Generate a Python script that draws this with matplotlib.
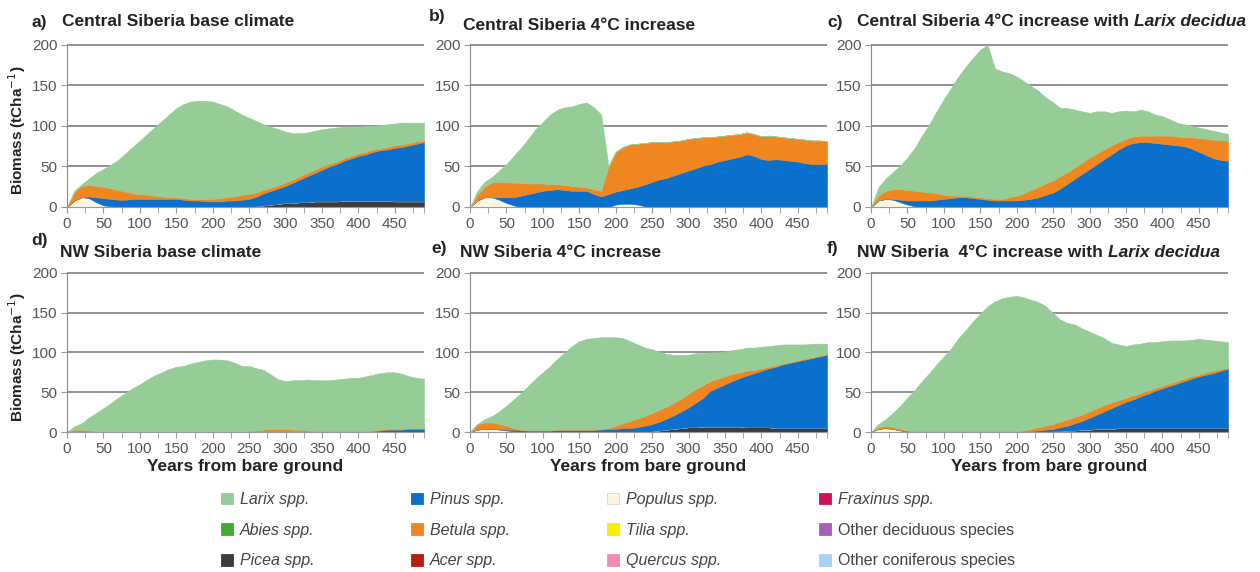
import numpy as np
import matplotlib.pyplot as plt
from matplotlib.patches import Patch

plt.rcParams['font.family'] = ['Liberation Sans', 'DejaVu Sans']

# years from bare ground, sampled every 10 years
years = np.arange(0, 500, 10)

# Values are the upper edge of each stacked layer (tC/ha).
# Stack order bottom -> top: Picea, Populus, Pinus, Betula, Larix

# a) Central Siberia base climate
a_picea = [0]*26 + [1, 2, 3, 4, 5, 5, 6, 6, 7, 7, 7, 7, 8, 8, 8, 8, 8, 8, 8, 7, 7, 7, 7, 7]
a_populus = [0, 8, 12, 11, 6, 2, 1] + [0]*43
a_pinus = [0, 8, 12, 13, 12, 11, 10, 9, 9, 10, 10, 10, 10, 10, 10, 10, 9, 8, 8, 7,
           7, 7, 8, 8, 9, 10, 13, 17, 20, 23, 26, 30, 34, 38, 42, 46, 50, 53, 57, 60,
           63, 65, 68, 70, 71, 73, 74, 76, 78, 80]
a_betula = [0, 18, 26, 27, 26, 25, 23, 21, 19, 17, 16, 15, 14, 13, 12, 12, 11, 10, 10, 10,
            10, 11, 12, 13, 15, 16, 18, 21, 24, 27, 30, 34, 38, 42, 46, 50, 53, 56, 60, 63,
            66, 68, 71, 72, 74, 76, 77, 79, 81, 82]
a_larix = [0, 20, 28, 35, 42, 47, 52, 58, 66, 74, 82, 90, 98, 106, 114, 122, 127, 130, 131, 131,
           130, 127, 124, 119, 114, 110, 106, 102, 99, 96, 93, 91, 91, 92, 94, 96, 97, 98, 99, 99,
           99, 100, 100, 101, 102, 103, 104, 104, 104, 104]

# b) Central Siberia 4°C increase
b_picea = [0]*50
b_populus = [0, 8, 12, 12, 9, 5, 2] + [0]*13 + [3, 4, 4, 3, 1] + [0]*25
b_pinus = [0, 8, 12, 12, 12, 12, 12, 14, 16, 18, 20, 21, 22, 21, 20, 20, 20, 16, 13, 16,
           19, 21, 23, 25, 28, 31, 34, 36, 39, 42, 45, 48, 51, 53, 56, 58, 60, 62, 65, 63,
           59, 58, 59, 58, 57, 56, 54, 53, 53, 53]
b_betula = [0, 15, 25, 30, 31, 31, 30, 30, 29, 29, 29, 28, 28, 27, 26, 25, 24, 22, 20, 50,
            68, 74, 77, 78, 79, 80, 80, 80, 81, 82, 84, 85, 86, 86, 87, 88, 89, 90, 92, 90,
            87, 88, 87, 86, 85, 84, 83, 82, 82, 81]
b_larix = [0, 20, 31, 37, 45, 53, 63, 73, 84, 96, 105, 114, 120, 123, 124, 127, 129, 123, 114] + [0]*31

# c) Central Siberia 4°C increase with Larix decidua
c_picea = [0]*50
c_populus = [0, 8, 10, 9, 6, 3, 1] + [0]*43
c_pinus = [0, 8, 10, 10, 9, 8, 8, 8, 8, 9, 10, 11, 12, 12, 11, 10, 9, 8, 8, 8,
           8, 9, 10, 12, 15, 18, 23, 29, 35, 41, 47, 53, 59, 65, 71, 76, 79, 80, 80, 79,
           78, 77, 76, 75, 72, 68, 64, 60, 58, 57]
c_betula = [0, 14, 20, 22, 22, 21, 20, 19, 18, 17, 15, 14, 14, 14, 13, 12, 11, 10, 10, 12,
            14, 17, 21, 25, 29, 33, 38, 43, 49, 55, 61, 66, 71, 76, 80, 84, 87, 88, 88, 88,
            88, 88, 87, 86, 86, 85, 84, 83, 82, 82]
c_larix = [0, 24, 35, 43, 51, 61, 73, 88, 102, 118, 133, 147, 161, 173, 184, 194, 200, 171, 167, 165,
           161, 155, 149, 143, 135, 129, 122, 122, 120, 118, 116, 118, 118, 116, 118, 119, 118, 120, 118, 114,
           112, 108, 104, 102, 100, 98, 96, 94, 92, 90]

# d) NW Siberia base climate
d_picea = [0]*50
d_populus = [0]*50
d_pinus = [0]*42 + [1, 2, 3, 3, 3, 4, 4, 4]
d_betula = [0, 3, 3, 2, 1, 0, 0, 0, 0, 0, 0, 0, 0, 0, 0, 0, 0, 0, 0, 0,
            0, 0, 0, 0, 0, 1, 2, 3, 4, 4, 4, 3, 3, 2, 1, 1, 1, 1, 1, 1,
            1, 1, 2, 3, 4, 4, 4, 5, 5, 5]
d_larix = [0, 7, 11, 18, 24, 30, 36, 43, 49, 55, 60, 66, 71, 75, 79, 82, 83, 86, 88, 90,
           91, 91, 90, 87, 83, 83, 80, 78, 72, 66, 64, 65, 65, 66, 65, 65, 65, 66, 67, 68,
           68, 70, 72, 74, 75, 75, 73, 70, 68, 67]

# e) NW Siberia 4°C increase
e_picea = [0]*25 + [1, 2, 3, 4, 5, 6, 6, 7, 7, 7, 7, 7, 7, 6, 6, 6, 6, 5, 5, 5, 5, 5, 5, 5, 5]
e_populus = [0, 3, 4, 4, 3, 2, 1] + [0]*43
e_pinus = [0, 3, 4, 4, 4, 3, 3, 2, 2, 2, 2, 2, 3, 3, 3, 3, 3, 3, 3, 4,
           4, 5, 5, 6, 8, 10, 13, 17, 21, 26, 31, 37, 43, 52, 56, 60, 64, 68, 71, 74,
           77, 80, 82, 85, 87, 89, 91, 93, 95, 97]
e_betula = [0, 10, 12, 12, 10, 8, 5, 3, 2, 2, 2, 2, 3, 3, 3, 3, 3, 3, 4, 5,
            8, 11, 14, 17, 20, 24, 28, 32, 37, 42, 48, 54, 59, 64, 67, 70, 73, 75, 77, 78,
            80, 82, 84, 86, 88, 90, 92, 94, 96, 98]
e_larix = [0, 9, 16, 20, 26, 33, 41, 49, 58, 67, 75, 83, 92, 100, 108, 114, 117, 118, 119, 119,
           119, 118, 114, 110, 106, 104, 101, 98, 97, 97, 97, 99, 99, 100, 100, 101, 103, 104, 106, 106,
           107, 108, 109, 110, 110, 110, 110, 111, 111, 111]

# f) NW Siberia 4°C increase with Larix decidua
f_picea = [0]*25 + [1, 1, 2, 2, 3, 3, 4, 4, 4, 5, 5, 5, 5, 5, 5, 5, 5, 5, 5, 5, 5, 5, 5, 5, 5]
f_populus = [0, 4, 5, 4, 2, 1] + [0]*44
f_pinus = [0, 4, 5, 4, 2, 1, 1, 1, 1, 1, 1, 1, 1, 1, 1, 1, 1, 1, 1, 1,
           1, 1, 1, 2, 3, 4, 6, 8, 11, 14, 18, 22, 26, 30, 34, 38, 41, 45, 48, 52,
           55, 58, 61, 64, 67, 70, 72, 74, 77, 79]
f_betula = [0, 6, 8, 6, 4, 2, 1, 1, 1, 1, 1, 1, 1, 1, 1, 1, 1, 1, 1, 1,
            1, 2, 4, 6, 8, 10, 13, 16, 19, 22, 26, 30, 34, 37, 40, 43, 46, 49, 52, 55,
            58, 61, 64, 67, 70, 72, 75, 77, 79, 81]
f_larix = [0, 10, 16, 24, 33, 43, 53, 64, 74, 85, 95, 105, 118, 128, 139, 149, 158, 164, 168, 170,
           171, 169, 166, 163, 158, 149, 141, 137, 135, 130, 126, 122, 118, 112, 110, 108, 110, 111, 113, 113,
           114, 115, 115, 115, 116, 117, 116, 115, 114, 113]

stack_colors = ['#3d3d3d', '#fbf6e4', '#0b6fcc', '#f0861f', '#96cc96']

legend_cols = [
    [('Larix spp.', '#96cc96'), ('Abies spp.', '#3fae2c'), ('Picea spp.', '#3d3d3d')],
    [('Pinus spp.', '#0b6fcc'), ('Betula spp.', '#f0861f'), ('Acer spp.', '#b52010')],
    [('Populus spp.', '#fbf6e4'), ('Tilia spp.', '#f7ee00'), ('Quercus spp.', '#f08cb4')],
    [('Fraxinus spp.', '#d0115a'), ('Other deciduous species', '#a562b4'),
     ('Other coniferous species', '#a9d1f2')],
]

W, H = 1260, 572
fx = lambda px: px / W
fy = lambda py: 1 - py / H

fig = plt.figure(figsize=(12.6, 5.72), dpi=100)


def draw_panel(rect, tops):
    ax = fig.add_axes(rect)
    edges = np.maximum.accumulate(np.array(tops, dtype=float), axis=0)
    layers = np.diff(np.vstack([np.zeros(len(years)), edges]), axis=0)
    ax.stackplot(years, layers, colors=stack_colors, edgecolor='face', linewidth=0.4, zorder=2)
    ax.set_xlim(0, 490)
    ax.set_ylim(0, 201)
    ax.set_yticks([0, 50, 100, 150, 200])
    ax.set_xticks(np.arange(0, 451, 50))
    ax.set_xticks(np.append(np.arange(0, 490, 25), 490), minor=True)
    ax.grid(axis='y', color='#747474', lw=1.1, zorder=0)
    ax.set_axisbelow(True)
    for s in ['top', 'right']:
        ax.spines[s].set_visible(False)
    ax.spines['left'].set_color('#8a8a8a')
    ax.spines['bottom'].set_color('#9a9a9a')
    ax.tick_params(which='both', direction='out', length=4, color='#9a9a9a',
                   labelcolor='#555555', labelsize=11, pad=3)
    return ax


lefts = [67, 470, 871]
row1 = (207, 163)
row2 = (432, 160)
panels_top = [
    [a_picea, a_populus, a_pinus, a_betula, a_larix],
    [b_picea, b_populus, b_pinus, b_betula, b_larix],
    [c_picea, c_populus, c_pinus, c_betula, c_larix],
]
panels_bot = [
    [d_picea, d_populus, d_pinus, d_betula, d_larix],
    [e_picea, e_populus, e_pinus, e_betula, e_larix],
    [f_picea, f_populus, f_pinus, f_betula, f_larix],
]

axes = []
for (bot, h), group in [(row1, panels_top), (row2, panels_bot)]:
    for left, tops in zip(lefts, group):
        axes.append(draw_panel([fx(left), fy(bot), 357 / W, h / H], tops))

for ax in axes[3:]:
    ax.set_xlabel('Years from bare ground', fontsize=12.5, fontweight='bold', color='#222222', labelpad=2)
for ax in (axes[0], axes[3]):
    ax.set_ylabel('Biomass (tCha$^{-1}$)', fontsize=11, fontweight='bold', color='#222222')
    ax.yaxis.set_label_coords(-0.11, 0.47)

# panel letters and titles
tkw = dict(fontsize=12.5, fontweight='bold', color='#222222', va='center')
fig.text(fx(31), fy(22), 'a)', **tkw)
fig.text(fx(62), fy(22), 'Central Siberia base climate', **tkw)
fig.text(fx(429), fy(17), 'b)', **tkw)
fig.text(fx(463), fy(25), 'Central Siberia 4°C increase', **tkw)
fig.text(fx(827), fy(22), 'c)', **tkw)
tc = fig.text(fx(857), fy(22), 'Central Siberia 4°C increase with ', **tkw)
fig.text(fx(31), fy(240), 'd)', **tkw)
fig.text(fx(60), fy(252), 'NW Siberia base climate', **tkw)
fig.text(fx(431), fy(248), 'e)', **tkw)
fig.text(fx(460), fy(252), 'NW Siberia 4°C increase', **tkw)
fig.text(fx(827), fy(248), 'f)', **tkw)
tf = fig.text(fx(857), fy(252), 'NW Siberia  4°C increase with ', **tkw)

fig.canvas.draw()
for t, py in [(tc, 22), (tf, 252)]:
    bb = t.get_window_extent()
    fig.text(bb.x1 / W, fy(py), 'Larix decidua', style='italic', **tkw)

# legend, four columns
col_x = [221, 411, 607, 819]
for x, entries in zip(col_x, legend_cols):
    handles = [Patch(facecolor=c, edgecolor='#d8d8d8' if c == '#fbf6e4' else c, lw=0.6)
               for _, c in entries]
    leg = fig.legend(handles, [n for n, _ in entries], loc='upper left',
                     bbox_to_anchor=(fx(x), fy(492)), frameon=False, borderpad=0,
                     borderaxespad=0, handlelength=0.75, handleheight=0.75,
                     handletextpad=0.45, labelspacing=0.98, fontsize=11.5)
    for txt in leg.get_texts():
        txt.set_color('#444444')
        if not txt.get_text().startswith('Other'):
            txt.set_fontstyle('italic')

fig.savefig('out.png', dpi=100)
